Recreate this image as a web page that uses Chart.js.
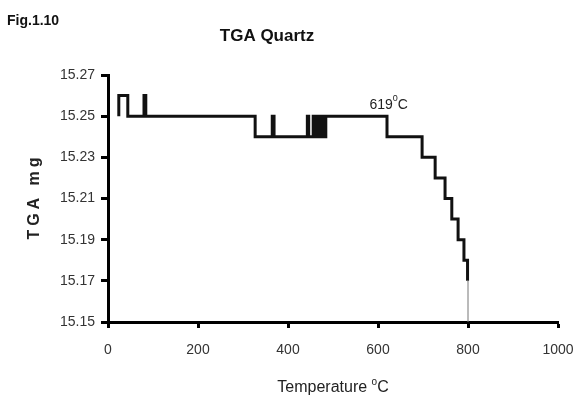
<!DOCTYPE html>
<html>
<head>
<meta charset="utf-8">
<script src="https://cdn.jsdelivr.net/npm/chart.js@4/dist/chart.umd.min.js"></script>
<style>
  html, body { margin: 0; padding: 0; background: #fff; }
  #wrap { width: 574px; height: 396px; }
</style>
</head>
<body>
<div id="wrap"><canvas id="tga"></canvas></div>
<script>
// temperature (°C) where the mass changes, and the new mass (mg) from there on
const temps = [
  24, 24, 44, 80, 84, 327, 365, 369, 443, 446,
  456, 458, 460, 462, 464, 466, 468, 470, 472, 474, 476, 478, 480, 482, 484,
  620, 698, 727, 749, 764, 778, 791, 799, 800
];
const masses = [
  15.25, 15.26, 15.25, 15.26, 15.25, 15.24, 15.25, 15.24, 15.25, 15.24,
  15.25, 15.24, 15.25, 15.24, 15.25, 15.24, 15.25, 15.24, 15.25, 15.24, 15.25, 15.24, 15.25, 15.24, 15.25,
  15.24, 15.23, 15.22, 15.21, 15.20, 15.19, 15.18, 15.17, 15.15
];
const xTicks = [0, 200, 400, 600, 800, 1000];
const yTicks = [15.15, 15.17, 15.19, 15.21, 15.23, 15.25, 15.27];

const font = "'Liberation Sans', Arial, sans-serif";
const points = temps.map((t, i) => ({ x: t, y: masses[i] }));
const lastIdx = points.length - 1;

// titles + the 619 °C note
const textPlugin = {
  id: 'texts',
  afterDraw(chart) {
    const ctx = chart.ctx;
    const a = chart.chartArea;
    const xs = chart.scales.x, ys = chart.scales.y;
    ctx.save();
    ctx.fillStyle = '#111';
    ctx.textBaseline = 'middle';

    ctx.font = 'bold 14px ' + font;
    ctx.textAlign = 'left';
    ctx.fillText('Fig.1.10', 7, 21);

    ctx.font = 'bold 17px ' + font;
    ctx.textAlign = 'center';
    ctx.fillText('TGA Quartz', 267, 36);

    // x title
    ctx.fillStyle = '#222';
    ctx.font = '16px ' + font;
    const xt = 'Temperature ', xw = ctx.measureText(xt).width;
    const cw = ctx.measureText('C').width;
    ctx.font = '10px ' + font;
    const ow = ctx.measureText('o').width;
    let sx = (a.left + a.right) / 2 - (xw + ow + cw) / 2;
    ctx.textAlign = 'left';
    ctx.font = '16px ' + font;
    ctx.fillText(xt, sx, 388);
    ctx.font = '10px ' + font;
    ctx.fillText('o', sx + xw, 382);
    ctx.font = '16px ' + font;
    ctx.fillText('C', sx + xw + ow, 388);

    // y title
    ctx.save();
    ctx.translate(35, (a.top + a.bottom) / 2);
    ctx.rotate(-Math.PI / 2);
    ctx.font = 'bold 16px ' + font;
    ctx.fillStyle = '#222';
    if ('letterSpacing' in ctx) ctx.letterSpacing = '4px';
    ctx.textAlign = 'center';
    ctx.fillText('TGA mg', 2, 0);
    ctx.restore();

    // annotation
    const px = xs.getPixelForValue(612), py = ys.getPixelForValue(15.2555);
    ctx.fillStyle = '#222';
    ctx.textAlign = 'left';
    ctx.font = '14px ' + font;
    const w1 = ctx.measureText('619').width;
    ctx.fillText('619', px - 14, py);
    ctx.font = '9px ' + font;
    const w2 = ctx.measureText('0').width;
    ctx.fillText('0', px - 14 + w1, py - 6);
    ctx.font = '14px ' + font;
    ctx.fillText('C', px - 14 + w1 + w2, py);
    ctx.restore();
  }
};

new Chart(document.getElementById('tga'), {
  type: 'line',
  data: {
    datasets: [{
      data: points,
      stepped: true,
      borderColor: '#111',
      borderWidth: 3,
      pointRadius: 0,
      fill: false,
      segment: {
        borderWidth: ctx => ctx.p1DataIndex === lastIdx ? 1 : 3,
        borderColor: ctx => ctx.p1DataIndex === lastIdx ? '#777' : '#111'
      }
    }]
  },
  options: {
    responsive: true,
    maintainAspectRatio: false,
    animation: false,
    layout: { padding: { top: 75, right: 16, left: 0, bottom: 0 } },
    plugins: {
      legend: { display: false },
      tooltip: { enabled: false }
    },
    scales: {
      x: {
        type: 'linear',
        min: 0,
        max: 1000,
        afterBuildTicks: s => { s.ticks = xTicks.map(v => ({ value: v })); },
        afterFit: s => { s.height = 74; s.paddingLeft = 0; s.paddingRight = 0; },
        grid: { drawOnChartArea: false, tickLength: 6, tickWidth: 3, tickColor: '#000' },
        border: { color: '#000', width: 3 },
        ticks: {
          color: '#333',
          font: { family: font, size: 14 },
          padding: 14,
          maxRotation: 0,
          callback: v => String(v)
        }
      },
      y: {
        min: 15.15,
        max: 15.27,
        afterBuildTicks: s => { s.ticks = yTicks.map(v => ({ value: v })); },
        afterFit: s => { s.width = 108; s.paddingTop = 0; s.paddingBottom = 0; },
        grid: { drawOnChartArea: false, tickLength: 7, tickWidth: 3, tickColor: '#000' },
        border: { color: '#000', width: 3 },
        ticks: {
          color: '#333',
          font: { family: font, size: 14 },
          padding: 6,
          callback: v => Number(v).toFixed(2)
        }
      }
    }
  },
  plugins: [textPlugin]
});
</script>
</body>
</html>
